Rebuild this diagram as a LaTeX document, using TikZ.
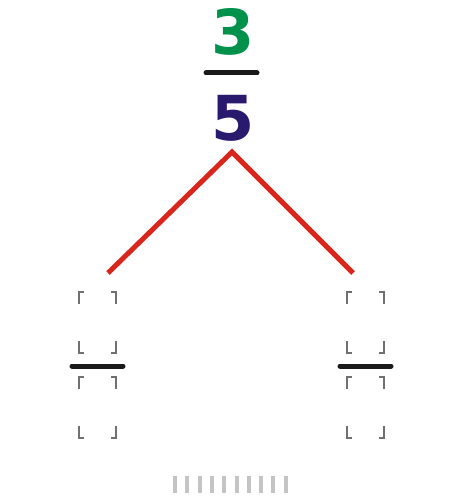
\documentclass[tikz,border=0pt]{standalone}
\usepackage{fontspec}
\setmainfont{DejaVu Sans}
\definecolor{numgreen}{HTML}{00924A}
\definecolor{dengblue}{HTML}{2A1A6E}
\definecolor{treered}{HTML}{D9261C}
\definecolor{barblack}{HTML}{1A1A1A}
\definecolor{bracketgray}{HTML}{707070}
\definecolor{dashgray}{HTML}{C4C4C4}
\tikzset{
  digit/.style={inner sep=0pt, font=\fontsize{62}{62}\selectfont\bfseries},
  fracbar/.style={line width=5pt, color=barblack, line cap=round},
  branch/.style={line width=5pt, color=treered, line join=miter},
  corner/.style={line width=1.3pt, color=bracketgray},
  tick/.style={fill=dashgray, draw=none}
}
\newcommand{\slotbox}[4]{% x1 y1 x2 y2 (y downward)
  \draw[corner] (#1+5,-#2) -- (#1,-#2) -- (#1,-#2-12);
  \draw[corner] (#3-5,-#2) -- (#3,-#2) -- (#3,-#2-12);
  \draw[corner] (#1,-#4+12) -- (#1,-#4) -- (#1+5,-#4);
  \draw[corner] (#3,-#4+12) -- (#3,-#4) -- (#3-5,-#4);
}
\begin{document}
\begin{tikzpicture}[x=1pt,y=1pt]
\useasboundingbox (0,0) rectangle (463,-500);
% fraction
\node[digit, text=numgreen] (num) at (233,-32) {3};
\draw[fracbar] (206,-73) coordinate (fbl) -- (257,-73) coordinate (fbr);
\node[digit, text=dengblue] (den) at (233,-118) {5};
% branches
\coordinate (apex) at (232,-152);
\coordinate (lend) at (108,-273);
\coordinate (rend) at (353,-273);
\draw[branch] (lend) -- (apex) -- (rend);
% left fraction slot
\slotbox{79}{292}{116}{353}
\draw[fracbar] (72,-366) coordinate (lbl) -- (123,-366) coordinate (lbr);
\slotbox{79}{377}{116}{438}
% right fraction slot
\slotbox{347}{292}{384}{353}
\draw[fracbar] (340,-366) coordinate (rbl) -- (391,-366) coordinate (rbr);
\slotbox{347}{377}{384}{438}
% bottom ticks
\foreach \i in {0,...,9} {
  \fill[tick] (173+\i*12.3,-476) rectangle (177+\i*12.3,-493);
}
\end{tikzpicture}
\end{document}
